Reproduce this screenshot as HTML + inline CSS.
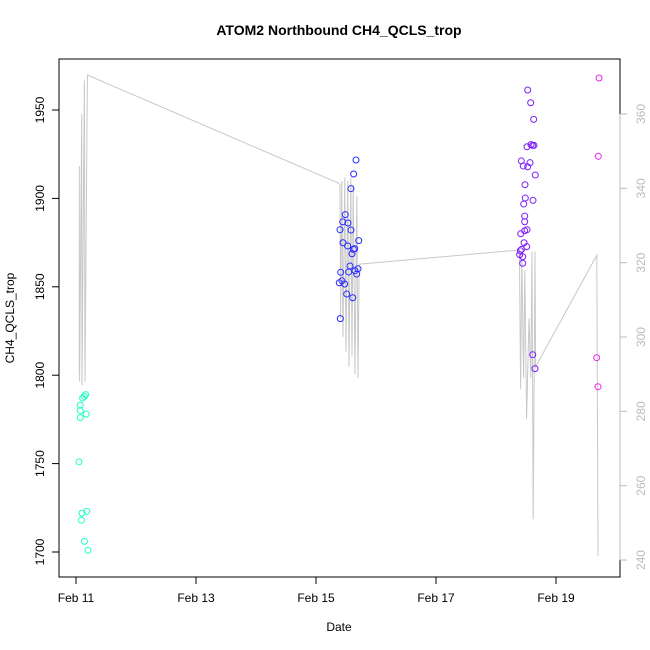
<!DOCTYPE html>
<html><head><meta charset="utf-8"><style>
html,body{margin:0;padding:0;background:#fff;}
svg{display:block;font-family:"Liberation Sans",Arial,sans-serif;}
</style></head><body>
<svg id="chart" width="650" height="650" viewBox="0 0 650 650">
<text x="339" y="35" text-anchor="middle" font-size="14" font-weight="bold">ATOM2 Northbound CH4_QCLS_trop</text>
<text x="339" y="631" text-anchor="middle" font-size="12">Date</text>
<text transform="translate(14,318) rotate(-90)" text-anchor="middle" font-size="12">CH4_QCLS_trop</text>
<rect x="59" y="59" width="561" height="518" fill="none" stroke="#000" stroke-width="1"/>
<g id="lines"></g><g id="pts"></g><g id="axes"></g>
</svg>
<script>
// axis functions
const xDay = d => 76 + d*60;                 // days since Feb 11
const yL = v => 110 + (1950 - v)*1.768;      // left axis CH4
const yR = v => 114 + (360 - v)*3.717;       // right axis

const xTickLabels = ["Feb 11","Feb 13","Feb 15","Feb 17","Feb 19"];
const xTickDays = [0,2,4,6,8];
const yTicks = [1700,1750,1800,1850,1900,1950];
const yRTicks = [240,260,280,300,320,340,360];

// secondary grey line (right axis)
const lineDays = [0.055,0.055,0.06,0.095,0.1,0.14,0.15,0.19,4.37,4.4,4.41,4.43,4.45,4.48,4.5,4.53,4.55,4.58,4.6,4.62,4.65,4.68,4.7,4.72,7.38,7.39,7.41,7.43,7.46,7.48,7.51,7.55,7.58,7.6,7.62,7.65,7.66,8.68,8.7];
const lineVals = [290,346,288,360,287,369,288,370.5,341.4,341,305,342,300,343,296,342,292,343,295,341,290,338,289,319.6,323.4,323,286,322,289,318,278,305,289,323,251,323,292,322,241];

// CH4 points, grouped by flight
const cyanDays = [0.07,0.07,0.07,0.11,0.14,0.16,0.17,0.05,0.1,0.09,0.18,0.14,0.2];
const cyanVals = [1783,1780,1776,1787,1788,1789,1778,1751,1722,1718,1723,1706,1701];
const blueDays = [4.667,4.628,4.583,4.488,4.445,4.533,4.4,4.583,4.45,4.528,4.712,4.645,4.622,4.6,4.567,4.545,4.65,4.678,4.7,4.412,4.433,4.388,4.478,4.512,4.612,4.405];
const blueVals = [1921.7,1913.8,1905.5,1890.8,1886.7,1886.1,1882.3,1882.1,1874.9,1873.1,1876.1,1871.6,1871.2,1868.7,1861.8,1858.4,1859.1,1857.2,1860.2,1858.2,1853.4,1852.3,1851.6,1845.9,1843.8,1832.0];
const purpleDays = [7.528,7.578,7.628,7.583,7.612,7.633,7.517,7.422,7.455,7.528,7.567,7.655,7.483,7.488,7.617,7.462,7.478,7.478,7.517,7.478,7.412,7.467,7.512,7.428,7.405,7.395,7.445,7.445,7.612,7.65];
const purpleVals = [1961.3,1954.1,1944.7,1930.4,1930.0,1930.0,1929.2,1921.2,1918.3,1917.9,1920.2,1913.2,1907.7,1900.2,1898.9,1896.8,1890.0,1886.8,1882.3,1881.7,1880.0,1874.9,1872.7,1871.2,1870.4,1868.2,1867.0,1863.3,1811.6,1803.7];
const magentaDays = [8.717,8.705,8.678,8.7];
const magentaVals = [1968.1,1923.8,1809.9,1793.5];

const NS="http://www.w3.org/2000/svg";
function mk(tag,attrs,parent){const e=document.createElementNS(NS,tag);for(const k in attrs)e.setAttribute(k,attrs[k]);parent.appendChild(e);return e;}
const gL=document.getElementById('lines'),gP=document.getElementById('pts'),gA=document.getElementById('axes');

let d="";
lineDays.forEach((dd,i)=>{d+=(i?"L":"M")+xDay(dd).toFixed(1)+","+yR(lineVals[i]).toFixed(1);});
const pl=mk('path',{d:d,fill:"none",stroke:"#c8c8c8","stroke-width":1},gL);



function series(days,vals,color,name){
  days.forEach((dd,i)=>{
    const c=mk('circle',{cx:xDay(dd),cy:yL(vals[i]),r:3,fill:"none",stroke:color,"stroke-width":1},gP);
    
    
  });
}
series(cyanDays,cyanVals,"#1effc4","feb11");
series(blueDays,blueVals,"#2a2aff","feb15");
series(purpleDays,purpleVals,"#7f1fff","feb18");
series(magentaDays,magentaVals,"#ee22ee","feb19");

// x axis
mk('line',{x1:xDay(xTickDays[0]),x2:xDay(xTickDays[xTickDays.length-1]),y1:577,y2:577,stroke:"#000"},gA);
xTickDays.forEach((t,i)=>{
  mk('line',{x1:xDay(t),x2:xDay(t),y1:577,y2:584,stroke:"#000"},gA);
  const tx=mk('text',{x:xDay(t),y:602,"text-anchor":"middle","font-size":12},gA);
  tx.textContent=xTickLabels[i];
  
  
});
// left axis
mk('line',{x1:59,x2:59,y1:yL(1700),y2:yL(1950),stroke:"#000"},gA);
yTicks.forEach(t=>{
  mk('line',{x1:52,x2:59,y1:yL(t),y2:yL(t),stroke:"#000"},gA);
  const tx=mk('text',{transform:`translate(44,${yL(t)}) rotate(-90)`,"text-anchor":"middle","font-size":12},gA);
  tx.textContent=t;
  
  
});
// right axis
mk('line',{x1:620,x2:620,y1:yR(240),y2:yR(360),stroke:"#bbb"},gA);
yRTicks.forEach(t=>{
  mk('line',{x1:620,x2:627,y1:yR(t),y2:yR(t),stroke:"#bbb"},gA);
  const tx=mk('text',{transform:`translate(645,${yR(t)}) rotate(-90)`,"text-anchor":"middle","font-size":12,fill:"#bbb"},gA);
  tx.textContent=t;
  
  
});
</script>
</body></html>
